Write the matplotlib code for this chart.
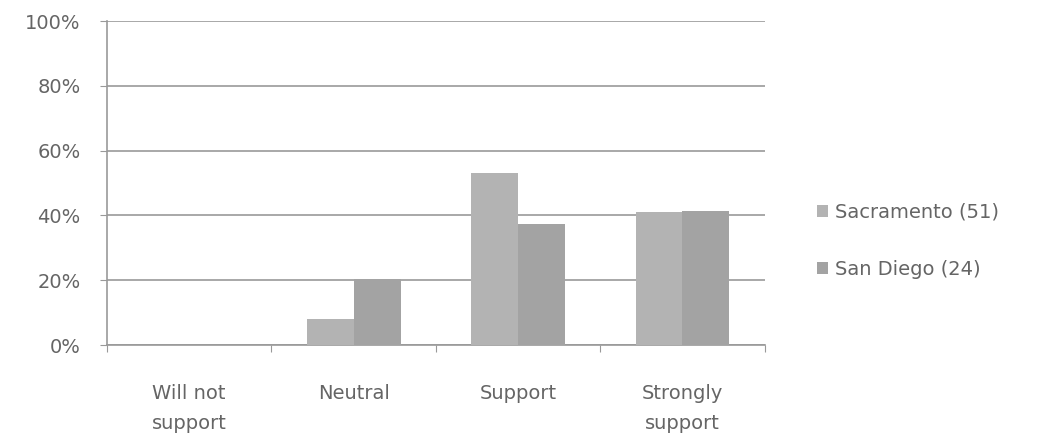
import matplotlib.pyplot as plt
import numpy as np

categories = ['Will not\nsupport', 'Neutral', 'Support', 'Strongly\nsupport']
sacramento = [0, 8, 53, 41]
san_diego = [0, 20.5, 37.5, 41.5]
series_names = ['Sacramento (51)', 'San Diego (24)']
y_ticks = [0, 20, 40, 60, 80, 100]
y_tick_labels = ['0%', '20%', '40%', '60%', '80%', '100%']

plt.rcParams['font.family'] = ['DejaVu Sans']
text_color = '#656565'
fs = 14

fig = plt.figure(figsize=(10.39, 4.47), dpi=100)
ax = fig.add_axes([0.103, 0.228, 0.633, 0.725])

x = np.arange(len(categories))
w = 1 / 3.5  # Excel style gap width 150%
ax.bar(x - w / 2, sacramento, w, color='#b3b3b3', label=series_names[0], zorder=3)
ax.bar(x + w / 2, san_diego, w, color='#a3a3a3', label=series_names[1], zorder=3)

ax.set_xlim(-0.5, len(categories) - 0.5)
ax.set_ylim(0, 100)

# gridlines
ax.set_yticks(y_ticks)
ax.set_yticklabels(y_tick_labels, color=text_color, fontsize=fs)
ax.yaxis.grid(True, color='#9a9a9a', linewidth=1.2, zorder=0)
ax.tick_params(axis='y', length=5, color='#999999', pad=14)

# category boundary ticks on x axis
ax.set_xticks(np.arange(-0.5, len(categories) + 0.5, 1))
ax.set_xticklabels([])
ax.tick_params(axis='x', length=5, color='#999999')
for i, c in enumerate(categories):
    ax.text(i, -12, c, ha='center', va='top', fontsize=fs, color=text_color,
            linespacing=1.75)

for s in ['top', 'right']:
    ax.spines[s].set_visible(False)
for s in ['left', 'bottom']:
    ax.spines[s].set_color('#999999')
    ax.spines[s].set_linewidth(1.2)

ax.legend(loc='center left', bbox_to_anchor=(1.068, 0.322), frameon=False,
          fontsize=fs, labelcolor=text_color, handlelength=0.55, handleheight=0.55,
          handletextpad=0.35, labelspacing=1.95, borderaxespad=0)

fig.savefig('out.png', dpi=100)
